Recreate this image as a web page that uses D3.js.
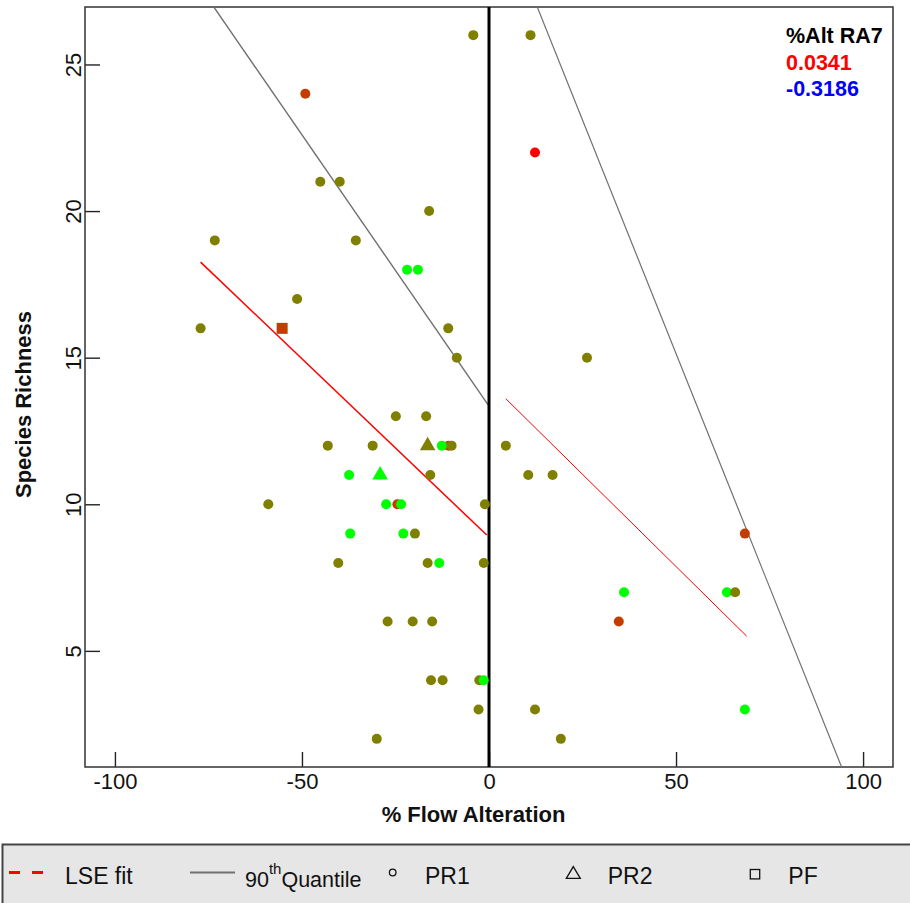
<!DOCTYPE html>
<html>
<head>
<meta charset="utf-8">
<script src="https://cdn.jsdelivr.net/npm/d3@7"></script>
<style>
  html, body { margin: 0; padding: 0; background: #ffffff; }
  svg { display: block; font-family: "Liberation Sans", Arial, sans-serif; }
</style>
</head>
<body>
<svg id="chart" width="910" height="903"></svg>
<script>
// ---------------- data ----------------
// groups: OL = olive, GR = green, OR = orange-red, RD = red ; shapes: PR1 circle, PR2 triangle, PF square
const pointX = [
  -49.1, -10.8, -24.5, 68.4, 34.7, -55.3,
  12.3,
  -21.9, -19.0, -12.6, -37.4, -27.5, -23.5, -37.1, -22.9, -13.3, 36.1, 63.6, 68.4, -29.1,
  -4.2, -45.1, -39.9, -16.0, -73.3, -35.6, -51.3, -77.1, -10.9, -8.6, 11.1, 26.2,
  -24.9, -16.8, -43.1, -31.1, -10.0, -15.7, -59.0, -1.1, -19.8, -40.3, -16.4, -1.4,
  -27.1, -20.4, -15.2, -15.5, -12.4, -2.6, -2.8, -30.0, 4.5, 10.5, 17.0, 65.8, 12.3, 19.2,
  -16.4,
  -1.4
];
const pointY = [
  24, 12, 10, 9, 6, 16,
  22,
  18, 18, 12, 11, 10, 10, 9, 9, 8, 7, 7, 3, 11,
  26, 21, 21, 20, 19, 19, 17, 16, 16, 15, 26, 15,
  13, 13, 12, 12, 12, 11, 10, 10, 9, 8, 8, 8,
  6, 6, 6, 4, 4, 4, 3, 2, 12, 11, 11, 7, 3, 2,
  12,
  4
];
const pointGroup = [
  "OR", "OR", "OR", "OR", "OR", "OR",
  "RD",
  "GR", "GR", "GR", "GR", "GR", "GR", "GR", "GR", "GR", "GR", "GR", "GR", "GR",
  "OL", "OL", "OL", "OL", "OL", "OL", "OL", "OL", "OL", "OL", "OL", "OL",
  "OL", "OL", "OL", "OL", "OL", "OL", "OL", "OL", "OL", "OL", "OL", "OL",
  "OL", "OL", "OL", "OL", "OL", "OL", "OL", "OL", "OL", "OL", "OL", "OL", "OL", "OL",
  "OL",
  "GR"
];
const pointShape = [
  "PR1", "PR1", "PR1", "PR1", "PR1", "PF",
  "PR1",
  "PR1", "PR1", "PR1", "PR1", "PR1", "PR1", "PR1", "PR1", "PR1", "PR1", "PR1", "PR1", "PR2",
  "PR1", "PR1", "PR1", "PR1", "PR1", "PR1", "PR1", "PR1", "PR1", "PR1", "PR1", "PR1",
  "PR1", "PR1", "PR1", "PR1", "PR1", "PR1", "PR1", "PR1", "PR1", "PR1", "PR1", "PR1",
  "PR1", "PR1", "PR1", "PR1", "PR1", "PR1", "PR1", "PR1", "PR1", "PR1", "PR1", "PR1", "PR1", "PR1",
  "PR2",
  "PR1"
];

// fitted lines (endpoints)
const lseLeftX = [-77.1, -0.6], lseLeftY = [18.26, 8.95];
const lseRightX = [4.5, 68.9],  lseRightY = [13.6, 5.5];
const q90LeftX = [-80, 0],      q90LeftY = [28.15, 13.35];
const q90RightX = [0, 100],     q90RightY = [31.07, -0.79];

const xTicks = [-100, -50, 0, 50, 100];
const yTicks = [5, 10, 15, 20, 25];
const xDomain = [-108, 108];
const yDomain = [1.04, 26.96];

const statLabels = ["%Alt RA7", "0.0341", "-0.3186"];
const legendLabels = ["LSE fit", "90", "th", "Quantile", "PR1", "PR2", "PF"];
const xTitle = "% Flow Alteration";
const yTitle = "Species Richness";

// ---------------- styles ----------------
const groupColor = { OL: "#808000", GR: "#00ff00", OR: "#c43d00", RD: "#ff0000" };
const statColors = ["#000000", "#ff0000", "#0000ff"];

// ---------------- drawing ----------------
const svg = d3.select("#chart");
const L = 85, R = 893, T = 7, B = 767;
const x = d3.scaleLinear().domain(xDomain).range([L, R]);
const y = d3.scaleLinear().domain(yDomain).range([B, T]);
const fmt = d => String(d);

svg.append("rect").attr("width", 910).attr("height", 903).attr("fill", "#ffffff");

svg.append("defs").append("clipPath").attr("id", "plotclip")
  .append("rect").attr("x", L).attr("y", T).attr("width", R - L).attr("height", B - T);

// axes
const xAxis = d3.axisBottom(x).tickValues(xTicks).tickSizeInner(-15).tickSizeOuter(0).tickPadding(6)
  .tickFormat(fmt);
const gx = svg.append("g").attr("transform", `translate(0,${B})`).call(xAxis);
gx.select(".domain").remove();
gx.selectAll("line").attr("stroke", "#222").attr("stroke-width", 1.4);
gx.selectAll("text").attr("font-size", 22).attr("fill", "#111")
  .attr("font-family", "Liberation Sans, Arial, sans-serif");

const yAxis = d3.axisLeft(y).tickValues(yTicks).tickSizeInner(-15).tickSizeOuter(0)
  .tickFormat(fmt);
const gy = svg.append("g").attr("transform", `translate(${L},0)`).call(yAxis);
gy.select(".domain").remove();
gy.selectAll("line").attr("stroke", "#222").attr("stroke-width", 1.4);
gy.selectAll("text").attr("font-size", 22).attr("fill", "#111")
  .attr("font-family", "Liberation Sans, Arial, sans-serif")
  .attr("x", null).attr("dy", null).attr("text-anchor", "middle")
  .attr("transform", "translate(-4.5,0) rotate(-90)");

// plot box
svg.append("rect").attr("x", L).attr("y", T).attr("width", R - L).attr("height", B - T)
  .attr("fill", "none").attr("stroke", "#333").attr("stroke-width", 1.5);

// lines
const lineGen = d3.line().x(d => x(d[0])).y(d => y(d[1]));
const plotG = svg.append("g").attr("clip-path", "url(#plotclip)");
plotG.append("path").datum(d3.zip(q90LeftX, q90LeftY)).attr("d", lineGen)
  .attr("fill", "none").attr("stroke", "#707070").attr("stroke-width", 1.4);
plotG.append("path").datum(d3.zip(q90RightX, q90RightY)).attr("d", lineGen)
  .attr("fill", "none").attr("stroke", "#707070").attr("stroke-width", 1.2);
plotG.append("path").datum(d3.zip(lseLeftX, lseLeftY)).attr("d", lineGen)
  .attr("fill", "none").attr("stroke", "#ff0000").attr("stroke-width", 1.5);
plotG.append("path").datum(d3.zip(lseRightX, lseRightY)).attr("d", lineGen)
  .attr("fill", "none").attr("stroke", "#ff0000").attr("stroke-width", 1);

// zero line
svg.append("line").attr("x1", x(0)).attr("x2", x(0)).attr("y1", T).attr("y2", B)
  .attr("stroke", "#000").attr("stroke-width", 3);

// points
const symByShape = {
  PR1: d3.symbol(d3.symbolCircle, Math.PI * 25),
  PR2: d3.symbol(d3.symbolTriangle, 105),
  PF: d3.symbol(d3.symbolSquare, 121)
};
const pts = d3.range(pointX.length).map(i => ({ x: pointX[i], y: pointY[i], g: pointGroup[i], s: pointShape[i] }));
svg.append("g").selectAll("path").data(pts).join("path")
  .attr("transform", d => `translate(${x(d.x)},${y(d.y)})`)
  .attr("d", d => symByShape[d.s]())
  .attr("fill", d => groupColor[d.g]);

// stats text
svg.append("g").selectAll("text").data(statLabels).join("text")
  .attr("x", 786).attr("y", (d, i) => [42.5, 70, 96][i])
  .attr("font-size", 21.5).attr("font-weight", "bold")
  .attr("fill", (d, i) => statColors[i]).text(d => d);

// axis titles
svg.append("text").attr("x", 473.5).attr("y", 821.5).attr("text-anchor", "middle")
  .attr("font-size", 22).attr("font-weight", "bold").attr("fill", "#111").text(xTitle);
svg.append("text").attr("transform", "translate(30.5,404.5) rotate(-90)").attr("text-anchor", "middle")
  .attr("font-size", 22).attr("font-weight", "bold").attr("fill", "#111").text(yTitle);

// legend
const lg = svg.append("g");
lg.append("rect").attr("x", 2.5).attr("y", 844.5).attr("width", 920).attr("height", 80)
  .attr("fill", "#e6e6e6").attr("stroke", "#444").attr("stroke-width", 2);
lg.append("line").attr("x1", 9).attr("x2", 45).attr("y1", 872.5).attr("y2", 872.5)
  .attr("stroke", "#ff0000").attr("stroke-width", 3).attr("stroke-dasharray", "11,12");
lg.append("line").attr("x1", 190).attr("x2", 235).attr("y1", 872.5).attr("y2", 872.5)
  .attr("stroke", "#707070").attr("stroke-width", 2.2);
lg.append("circle").attr("cx", 392.7).attr("cy", 872.5).attr("r", 3.3)
  .attr("fill", "none").attr("stroke", "#111").attr("stroke-width", 1.3);
lg.append("path").attr("d", "M573.3,866.6L580.3,878.4L566.3,878.4Z")
  .attr("fill", "none").attr("stroke", "#111").attr("stroke-width", 1.3);
lg.append("rect").attr("x", 750.3).attr("y", 869.5).attr("width", 9.4).attr("height", 9.4)
  .attr("fill", "none").attr("stroke", "#111").attr("stroke-width", 1.3);

const legTextStyle = sel => sel.attr("font-size", 23).attr("fill", "#111");
lg.append("text").attr("x", 65).attr("y", 884).text(legendLabels[0]).call(legTextStyle);
const qt = lg.append("text").attr("x", 245).attr("y", 886.5).attr("font-size", 21.5).attr("fill", "#111");
qt.append("tspan").text(legendLabels[1]);
qt.append("tspan").attr("font-size", 15).attr("dy", -13).text(legendLabels[2]);
qt.append("tspan").attr("dy", 13).text(legendLabels[3]);
lg.append("text").attr("x", 425).attr("y", 884).text(legendLabels[4]).call(legTextStyle);
lg.append("text").attr("x", 607.7).attr("y", 884).text(legendLabels[5]).call(legTextStyle);
lg.append("text").attr("x", 788.3).attr("y", 884).text(legendLabels[6]).call(legTextStyle);
</script>
</body>
</html>
